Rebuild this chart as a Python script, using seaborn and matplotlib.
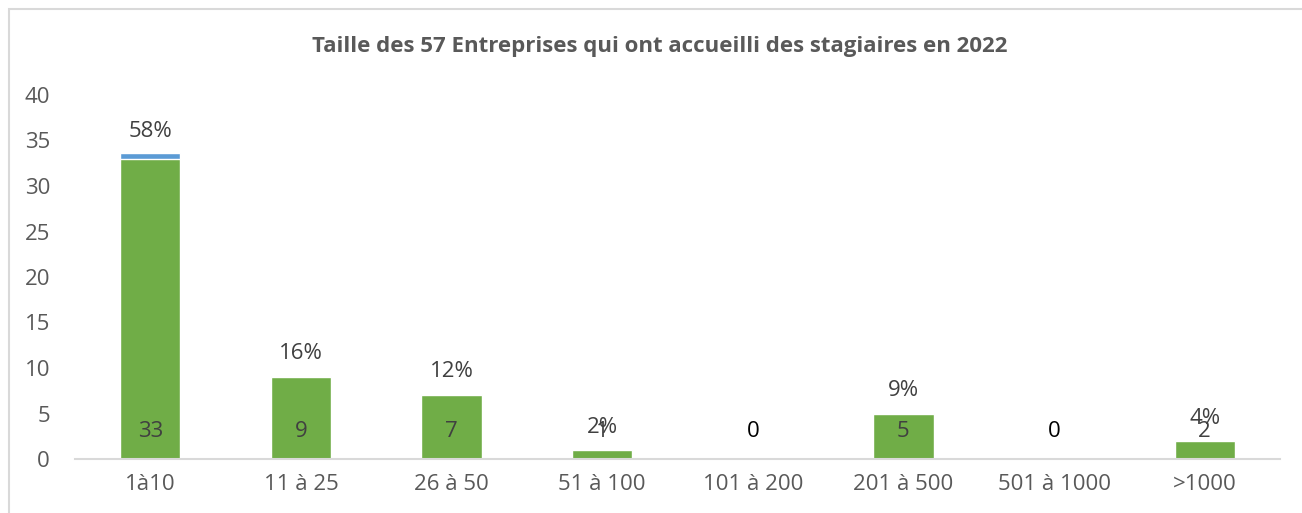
import numpy as np
import matplotlib.pyplot as plt
import seaborn as sns
from matplotlib.patches import Rectangle

categories = ["1à10", "11 à 25", "26 à 50", "51 à 100", "101 à 200", "201 à 500", "501 à 1000", ">1000"]
counts = [33, 9, 7, 1, 0, 5, 0, 2]
shares = [0.58, 0.16, 0.12, 0.02, 0.0, 0.09, 0.0, 0.04]
share_labels = ["58%", "16%", "12%", "2%", "", "9%", "", "4%"]

green = "#70AD47"
blue = "#5B9BD5"
grey_text = "#595959"
line_grey = "#D9D9D9"

sns.set_style("white")
plt.rcParams["font.family"] = ["Open Sans", "DejaVu Sans"]

fig = plt.figure(figsize=(13.02, 5.13), dpi=100)
ax = fig.add_axes([75 / 1302, 1 - 459 / 513, (1280 - 75) / 1302, (459 - 95) / 513])

totals = [c + s for c, s in zip(counts, shares)]

# blue segment drawn as full stack, green drawn over it
sns.barplot(x=categories, y=totals, color=blue, width=0.4, saturation=1, ax=ax)
sns.barplot(x=categories, y=counts, color=green, width=0.4, saturation=1, ax=ax)

for i, (c, t, lab) in enumerate(zip(counts, totals, share_labels)):
    ax.text(i, 3, str(c), ha="center", va="center", fontsize=16,
            color="#404040" if c > 0 else "#000000")
    if lab:
        ax.annotate(lab, (i, t), xytext=(0, 16), textcoords="offset points",
                    ha="center", va="center", fontsize=16, color="#404040")

ax.set_ylim(0, 40)
ax.set_xlim(-0.5, len(categories) - 0.5)
ax.set_yticks(range(0, 41, 5))
ax.tick_params(axis="y", length=0, labelsize=16, labelcolor=grey_text, pad=18)
ax.tick_params(axis="x", length=0, labelsize=16, labelcolor=grey_text, pad=11)

# category boundary tick marks
ax.set_xticks(np.arange(-0.5, len(categories), 1), minor=True)
ax.tick_params(axis="x", which="minor", length=6, color=line_grey, width=1.5, direction="out")

for side in ["left", "right", "top"]:
    ax.spines[side].set_visible(False)
ax.spines["bottom"].set_color(line_grey)
ax.spines["bottom"].set_linewidth(1.5)

ax.set_xlabel("")
ax.set_ylabel("")

fig.suptitle("Taille des 57 Entreprises qui ont accueilli des stagiaires en 2022",
             x=660 / 1302, y=1 - 47 / 513, va="center", fontsize=16,
             fontweight="bold", color=grey_text)

fig.patches.append(Rectangle((9 / 1302, -0.1), 1.2, 1 - 9 / 513 + 0.1,
                             transform=fig.transFigure, fill=False,
                             edgecolor=line_grey, linewidth=1.5))

fig.savefig("out.png", dpi=100)
